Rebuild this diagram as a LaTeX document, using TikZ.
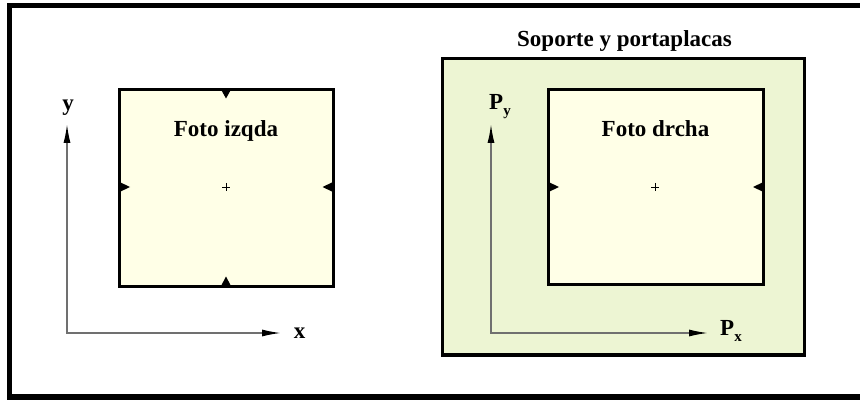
\documentclass[tikz,border=0pt]{standalone}
\usepackage{fontspec}
\setmainfont{Liberation Serif}
\usetikzlibrary{arrows.meta}
\definecolor{frameGreen}{RGB}{237,245,211}
\definecolor{photoYellow}{RGB}{255,255,231}
\definecolor{axisGray}{RGB}{112,112,112}
\tikzset{
  lbl/.style={font=\fontsize{23}{27}\selectfont\bfseries, inner sep=0pt},
  photo/.style={draw=black, line width=3pt, fill=photoYellow},
  holder/.style={draw=black, line width=3.2pt, fill=frameGreen},
  axisline/.style={draw=axisGray, line width=1.5pt,
     {Latex[length=19pt,width=7pt,color=black]}-{Latex[length=19pt,width=7pt,color=black]}},
  fid/.style={fill=black},
  cross/.style={draw=black, line width=0.7pt}
}
\begin{document}
\begin{tikzpicture}[x=1pt,y=-1pt]
\useasboundingbox (0,0) rectangle (860,401);
% outer frame
\draw[line width=5.5pt] (9.5,5.5) rectangle (866,397);
% holder
\draw[holder] (442.5,58.5) rectangle (804.5,355);
% photos
\draw[photo] (119.5,89.5) rectangle (333,286);
\draw[photo] (548.5,89.5) rectangle (763.5,284);
% fiducials left photo
\fill[fid] (221,89.5) -- (231,89.5) -- (226,98.5) -- cycle;
\fill[fid] (221,286) -- (231,286) -- (226,276.5) -- cycle;
\fill[fid] (119.5,182) -- (119.5,192) -- (130,187) -- cycle;
\fill[fid] (333,182) -- (333,192) -- (322.5,187) -- cycle;
% fiducials right photo
\fill[fid] (548.5,182) -- (548.5,192) -- (559,187) -- cycle;
\fill[fid] (763.5,182) -- (763.5,192) -- (753,187) -- cycle;
% centre crosses
\draw[cross] (222,187) -- (230,187) (226,183) -- (226,191);
\draw[cross] (651,187) -- (659,187) (655,183) -- (655,191);
% labels
\node[lbl, anchor=base] (title) at (624.5,47) {Soporte y portaplacas};
\node[lbl, anchor=base] (fl) at (226,137) {Foto izqda};
\node[lbl, anchor=base] (fr) at (655.5,137) {Foto drcha};
\node[lbl, anchor=base] (ly) at (68,111) {y};
\node[lbl, anchor=base] (lx) at (299.5,338) {x};
\node[lbl, anchor=base west] (lpx) at (720,335) {P\raisebox{-6pt}{\fontsize{15}{15}\selectfont x}};
\node[lbl, anchor=base west] (lpy) at (489,110) {P\raisebox{-6pt}{\fontsize{15}{15}\selectfont y}};
% axes
\coordinate (ay) at (67,124);
\coordinate (ax) at (281,333);
\coordinate (py) at (491,124);
\coordinate (px) at (708,333);
\draw[axisline] (ay) |- (ax);
\draw[axisline] (py) |- (px);
\end{tikzpicture}
\end{document}
